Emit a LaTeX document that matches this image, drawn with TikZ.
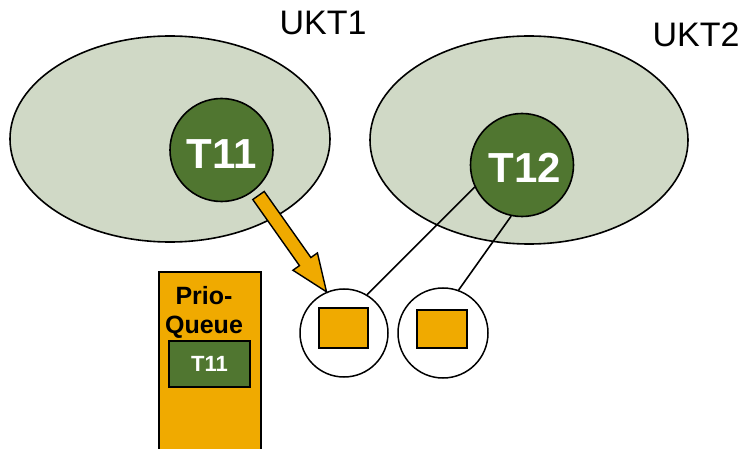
\documentclass[tikz,border=0pt]{standalone}
\usepackage{fontspec}
\setmainfont{Liberation Sans}
\usetikzlibrary{shapes.geometric,calc}
\definecolor{ukt}{RGB}{208,217,198}
\definecolor{kgreen}{RGB}{80,118,48}
\definecolor{korange}{RGB}{240,170,0}
\tikzset{
  ukt/.style={ellipse,draw=black,line width=1.6pt,fill=ukt,inner sep=0pt},
  kthread/.style={circle,draw=black,line width=1.6pt,fill=kgreen,inner sep=0pt,minimum size=103pt},
  tlabel/.style={text=white,font=\bfseries\fontsize{42}{42}\selectfont,inner sep=0pt},
  slot/.style={circle,draw=black,line width=1.5pt,fill=white,inner sep=0pt},
  lwp/.style={rectangle,draw=black,line width=1.6pt,fill=korange,inner sep=0pt},
  link/.style={draw=black,line width=1.6pt},
  lbl/.style={font=\fontsize{34}{34}\selectfont,inner sep=0pt}
}
\begin{document}
\begin{tikzpicture}[x=1pt,y=-1pt]
\useasboundingbox (0,0) rectangle (747,449);
\clip (0,0) rectangle (747,449);
% address spaces
\node[ukt,minimum width=320pt,minimum height=206pt] (ukt1) at (170,139) {};
\node[ukt,minimum width=318pt,minimum height=208pt] (ukt2) at (529,140) {};
\node[lbl] (l1) at (323,23) {UKT1};
\node[lbl] (l2) at (696,35) {UKT2};
% threads
\node[kthread] (t11) at (221.5,150) {};
\node[tlabel] (t11l) at (222,154) {T11};
\node[kthread] (t12) at (522,165) {};
\node[tlabel] (t12l) at (525,168) {T12};
% prio queue
\node[rectangle,draw=black,line width=1.6pt,fill=korange,minimum width=102pt,minimum height=185pt,inner sep=0pt] (pq) at (210,364.5) {};
\node[font=\bfseries\fontsize{25}{29}\selectfont,align=center,inner sep=0pt,anchor=north] (pql) at (204,286) {Prio-\\Queue};
\node[rectangle,draw=black,line width=1.6pt,fill=kgreen,minimum width=81pt,minimum height=46pt,inner sep=0pt,text=white,font=\bfseries\fontsize{22}{22}\selectfont] (pqt) at (209.5,364) {T11};
% slots
\node[slot,minimum size=88pt] (c1) at (344,333) {};
\node[slot,minimum size=90pt] (c2) at (443,333) {};
\node[lwp,minimum width=49pt,minimum height=40pt] (r1) at (343.5,328) {};
\node[lwp,minimum width=50pt,minimum height=38pt] (r2) at (442,329) {};
% links
\draw[link] (t12.205) -- (c1.59);
\draw[link] (t12.258) -- (c2.70);
% arrow
\coordinate (atail) at (258.5,195.5);
\coordinate (atip) at (c1.113);
\coordinate (ahead) at ($(atip)!37pt!(atail)$);
\draw[black,line width=1.4pt,fill=korange,line join=miter]
  ($(atail)!7pt!90:(atip)$) -- ($(ahead)!7pt!-90:(atail)$) -- ($(ahead)!15pt!-90:(atail)$)
  -- (atip) -- ($(ahead)!15pt!90:(atail)$) -- ($(ahead)!7pt!90:(atail)$)
  -- ($(atail)!7pt!-90:(atip)$) -- cycle;
\end{tikzpicture}
\end{document}
